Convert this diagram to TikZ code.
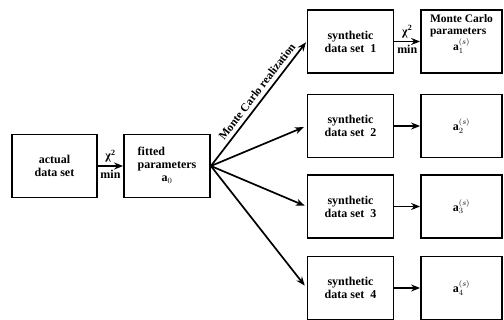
\documentclass[tikz,border=0pt]{standalone}
\usepackage{fontspec}
\setmainfont{Liberation Serif}
\usetikzlibrary{arrows.meta}
\newcommand{\avec}[1]{$\mathbf{a}^{(s)}_{#1}$}
\begin{document}
\begin{tikzpicture}[x=1pt,y=-1pt,
  box/.style={draw, line width=1.8pt, minimum height=63pt, align=center,
    font=\fontsize{12}{13}\selectfont\bfseries, inner sep=0pt},
  arr/.style={line width=1.7pt, -{Stealth[length=9pt,width=7pt]}},
  lab/.style={font=\fontsize{12}{12}\selectfont\bfseries, inner sep=1pt}]
\useasboundingbox (0,0) rectangle (504,320);
% left boxes
\node[box, minimum width=85pt] (act) at (54.5,166) {actual\\data set};
\node[box, minimum width=86pt] (fit) at (167,166)
  {\begin{tabular}{@{}l@{}}fitted\\parameters\\\multicolumn{1}{@{}c@{}}{$\mathbf{a}_0$}\end{tabular}};
% synthetic boxes
\node[box, minimum width=86pt] (s1) at (350.5,41.5) {synthetic\\data set~~1};
\node[box, minimum width=86pt] (s2) at (350.5,126) {synthetic\\data set~~2};
\node[box, minimum width=86pt] (s3) at (350.5,206.5) {synthetic\\data set~~3};
\node[box, minimum width=86pt] (s4) at (350.5,288) {synthetic\\data set~~4};
% Monte Carlo parameter boxes
\node[box, minimum width=81pt] (m1) at (461.5,41.5) {};
\node[lab, anchor=north, font=\fontsize{11.5}{12.5}\selectfont\bfseries] (m1t) at ([yshift=-3pt]m1.north)
  {\begin{tabular}{@{}l@{}}Monte Carlo\\parameters\\\multicolumn{1}{@{}c@{}}{\avec{1}}\end{tabular}};
\node[box, minimum width=81pt] (m2) at (461.5,126) {\avec{2}};
\node[box, minimum width=81pt] (m3) at (461.5,206.5) {\avec{3}};
\node[box, minimum width=81pt] (m4) at (461.5,288) {\avec{4}};
% arrows with chi^2 / min
\draw[arr] (act) -- (fit)
  node[lab, midway, above=2pt] (c0) {χ\textsuperscript{2}}
  node[lab, midway, below=2pt] (n0) {min};
\draw[arr] (s1) -- (m1)
  node[lab, midway, above=2pt] (c1) {χ\textsuperscript{2}}
  node[lab, midway, below=2pt] (n1) {min};
\draw[arr] (s2) -- (m2);
\draw[arr] (s3) -- (m3);
\draw[arr] (s4) -- (m4);
% fan
\coordinate (o) at (fit.east);
\draw[arr, shorten >=1pt] (o) -- (s1.west)
  node[lab, sloped, above=3pt, pos=0.555, font=\fontsize{11.5}{11.5}\selectfont\bfseries] (mcr) {Monte Carlo realization};
\draw[arr, shorten >=3pt] (o) -- (s2.west);
\draw[arr, shorten >=2pt] (o) -- (s3.west);
\draw[arr, shorten >=3pt] (o) -- (s4.west);
\end{tikzpicture}
\end{document}
